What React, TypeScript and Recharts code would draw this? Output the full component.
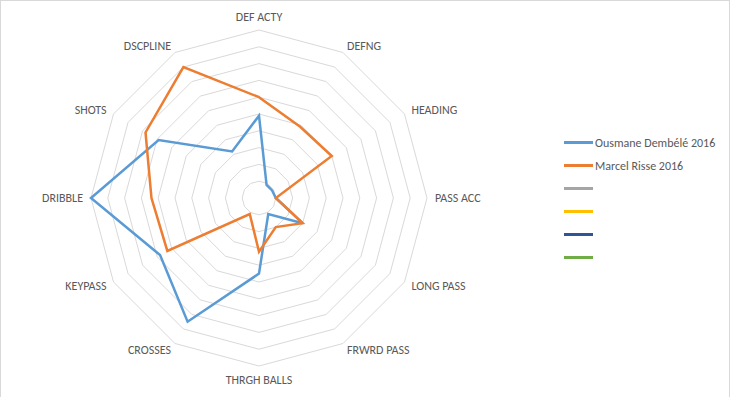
import React from 'react'
import {
  RadarChart,
  Radar,
  PolarGrid,
  PolarAngleAxis,
  PolarRadiusAxis,
  Legend,
} from 'recharts'

// axes, clockwise from the top
const categories = [
  'DEF ACTY', 'DEFNG', 'HEADING', 'PASS ACC', 'LONG PASS', 'FRWRD PASS',
  'THRGH BALLS', 'CROSSES', 'KEYPASS', 'DRIBBLE', 'SHOTS', 'DSCPLINE',
]
const dembele = [49, 9, 9, 10, 30, 11, 45, 85, 68, 100, 69, 32]
const risse = [60, 49, 50, 10, 30, 20, 32, 11, 63, 64, 78, 90]

const legendNames = ['Ousmane Dembélé 2016', 'Marcel Risse 2016', '', '', '', '']
const legendColors = ['#5B9BD5', '#ED7D31', '#A5A5A5', '#FFC000', '#2F5597', '#70AD47']

const data = categories.map((c, i) => ({ cat: c, dembele: dembele[i], risse: risse[i] }))

const FONT = "Carlito, Calibri, 'Liberation Sans Narrow', Lato, sans-serif"

function AngleTick(props: any) {
  const { x, y, textAnchor, payload, cy } = props
  let dy = 0
  if (textAnchor === 'middle') dy = y < cy ? -5 : 6
  return (
    <text
      x={x}
      y={y + dy}
      textAnchor={textAnchor}
      dominantBaseline="central"
      fontSize={12}
      fontFamily={FONT}
      fill="#595959"
    >
      {payload.value}
    </text>
  )
}

function LegendBox() {
  return (
    <div style={{ fontFamily: FONT, fontSize: 12, color: '#595959' }}>
      {legendNames.map((n, i) => (
        <div key={i} style={{ display: 'flex', alignItems: 'center', height: 23 }}>
          <div style={{ width: 29, height: 3, background: legendColors[i], marginRight: 2 }} />
          <span>{n}</span>
        </div>
      ))}
    </div>
  )
}

export default function App() {
  return (
    <div
      style={{
        position: 'absolute', left: 0, top: 0, width: 728, height: 396,
        border: '1px solid #D9D9D9', background: '#fff',
      }}
    >
      <RadarChart
        width={726}
        height={394}
        data={data}
        cx={258}
        cy={197}
        outerRadius={168}
        margin={{ top: 0, right: 0, bottom: 0, left: 0 }}
      >
        <PolarGrid gridType="polygon" radialLines={false} stroke="#D9D9D9" />
        <PolarAngleAxis
          dataKey="cat"
          tick={(p: any) => <AngleTick {...p} cy={197} />}
          tickLine={false}
          axisLine={false}
        />
        <PolarRadiusAxis domain={[0, 100]} tickCount={11} tick={false} axisLine={false} />
        <Radar
          dataKey="dembele"
          stroke="#5B9BD5"
          strokeWidth={2.5}
          fill="none"
          fillOpacity={0}
          isAnimationActive={false}
        />
        <Radar
          dataKey="risse"
          stroke="#ED7D31"
          strokeWidth={2.5}
          fill="none"
          fillOpacity={0}
          isAnimationActive={false}
        />
        <Legend
          content={() => <LegendBox />}
          layout="vertical"
          wrapperStyle={{ position: 'absolute', left: 563, top: 130, width: 165 }}
        />
      </RadarChart>
    </div>
  )
}
